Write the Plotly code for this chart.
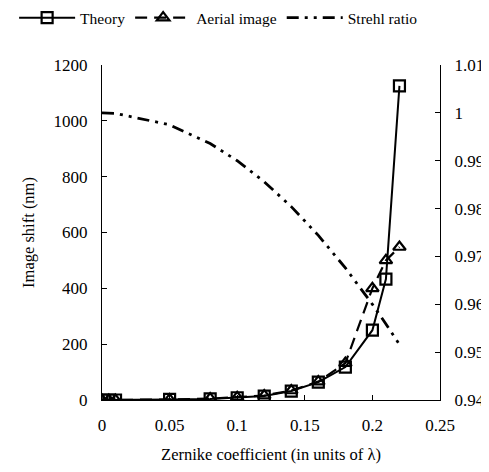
import plotly.graph_objects as go

x_vals = [0, 0.005, 0.01, 0.05, 0.08, 0.1, 0.12, 0.14, 0.16, 0.18, 0.2, 0.21, 0.22]
theory = [0, 0, 0, 2, 4, 8, 14, 32, 64, 118, 250, 433, 1125]
aerial = [0, 0, 0, 2, 5, 10, 16, 34, 66, 132, 400, 500, 548]
strehl = [1.0, 1.0, 0.9999, 0.9975, 0.9936, 0.990, 0.9856, 0.9804, 0.9744, 0.9676, 0.960, 0.9559, 0.9516]

x_ticks = [0, 0.05, 0.1, 0.15, 0.2, 0.25]
x_tick_text = ["0", "0.05", "0.1", "0.15", "0.2", "0.25"]
y_ticks = [0, 200, 400, 600, 800, 1000, 1200]
y2_ticks = [0.94, 0.95, 0.96, 0.97, 0.98, 0.99, 1.0, 1.01]
y2_tick_text = ["0.94", "0.95", "0.96", "0.97", "0.98", "0.99", "1", "1.01"]

FONT = "Liberation Serif"

fig = go.Figure()
fig.add_trace(go.Scatter(
    x=x_vals, y=theory, name="Theory", mode="lines+markers",
    line=dict(color="black", width=2),
    marker=dict(symbol="square-open", size=11, color="black", line=dict(width=2.2)),
))
fig.add_trace(go.Scatter(
    x=x_vals, y=aerial, name="Aerial image", mode="lines+markers",
    line=dict(color="black", width=2.2, dash="12px,7px"),
    marker=dict(symbol="triangle-up-open", size=11, color="black", line=dict(width=2.2)),
))
fig.add_trace(go.Scatter(
    x=x_vals, y=strehl, name="Strehl ratio", mode="lines", yaxis="y2",
    line=dict(color="black", width=2.8, dash="12px,6px,3px,6px,3px,6px"),
))

fig.update_layout(
    width=481, height=464,
    margin=dict(l=94, r=49, t=57, b=72, autoexpand=False),
    paper_bgcolor="white", plot_bgcolor="white",
    font=dict(family=FONT, size=17, color="black"),
    showlegend=True,
    legend=dict(orientation="h", x=-0.26, xanchor="left",
                y=1.14, yanchor="middle",
                font=dict(family=FONT, size=15.5, color="black"),
                itemwidth=56, tracegroupgap=0),
    xaxis=dict(range=[0, 0.25], tickvals=x_ticks, ticktext=x_tick_text,
               showgrid=False, zeroline=False, showline=True, linecolor="black",
               linewidth=1, ticks="inside", ticklen=5, tickcolor="black",
               ticklabelstandoff=10, automargin=False,
               title=dict(text="Zernike coefficient (in units of λ)", standoff=14,
                          font=dict(family=FONT, size=16.5)),
               ),
    yaxis=dict(range=[0, 1200], tickvals=y_ticks, showgrid=False, zeroline=False,
               showline=True, linecolor="black", linewidth=1, ticks="inside",
               ticklen=5, tickcolor="black", ticklabelstandoff=10, automargin=False,
               title=dict(text="Image shift (nm)", standoff=14,
                          font=dict(family=FONT, size=16.5))),
    yaxis2=dict(range=[0.94, 1.01], tickvals=y2_ticks, ticktext=y2_tick_text,
                overlaying="y", side="right", showgrid=False, zeroline=False,
                showline=True, linecolor="black", linewidth=1, ticks="inside",
                ticklen=5, tickcolor="black", ticklabelstandoff=10, automargin=False),
)

fig.write_html("out.html")
